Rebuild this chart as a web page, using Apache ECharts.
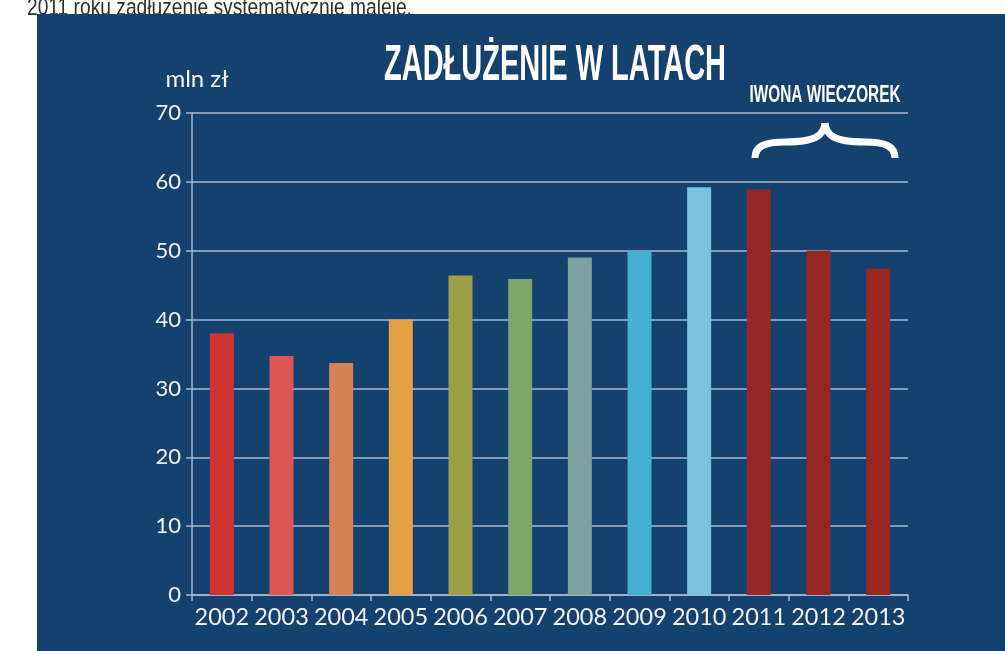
<!DOCTYPE html>
<html>
<head>
<meta charset="utf-8">
<script src="https://cdn.jsdelivr.net/npm/echarts@6/dist/echarts.min.js"></script>
<style>
  html, body { margin: 0; padding: 0; background: #fff; }
  #chart { width: 1005px; height: 651px; }
</style>
</head>
<body>
<div id="chart"></div>
<script>
// data
const years = ['2002', '2003', '2004', '2005', '2006', '2007', '2008', '2009', '2010', '2011', '2012', '2013'];
const debt = [38, 34.7, 33.7, 40, 46.4, 45.9, 49, 50, 59.2, 58.9, 50, 47.4];
const barColors = ['#cf3232', '#dc5656', '#d68055', '#e5a044', '#9ca046', '#7da66c',
                   '#7ea2a2', '#43b1d0', '#7bc3df', '#952724', '#952724', '#952724'];

const gridColor = '#a9b9cf';

// the curly brace over 2011-2013, drawn as four curves
const brace = { stroke: '#ffffff', lineWidth: 7, fill: null };
const braceParts = [
    { x1: 755, y1: 158, cpx1: 755, cpy1: 146, cpx2: 765, cpy2: 142, x2: 785, y2: 142 },
    { x1: 785, y1: 142, cpx1: 818, cpy1: 142, cpx2: 824, cpy2: 134, x2: 825, y2: 123 },
    { x1: 825, y1: 123, cpx1: 826, cpy1: 134, cpx2: 832, cpy2: 142, x2: 865, y2: 142 },
    { x1: 865, y1: 142, cpx1: 885, cpy1: 142, cpx2: 895, cpy2: 146, x2: 895, y2: 158 }
];

const chart = echarts.init(document.getElementById('chart'), null, { renderer: 'canvas' });

chart.setOption({
    backgroundColor: '#ffffff',
    animation: false,
    grid: { left: 192, right: 97, top: 113, bottom: 56 },
    graphic: [
        // text of the page above the panel, cut by it
        {
            type: 'text', x: 27, y: 20, z: -11, scaleX: 0.8,
            style: {
                text: '2011 roku zadłużenie systematycznie maleje,',
                font: '24px "Liberation Sans Narrow", sans-serif',
                fill: '#2e2e2e', verticalAlign: 'bottom'
            }
        },
        {
            type: 'rect', z: -10,
            shape: { x: 37, y: 14, width: 968, height: 637 },
            style: { fill: '#15416f' }
        },
        {
            type: 'text', x: 555, y: 66, scaleX: 0.58,
            style: {
                text: 'ZADŁUŻENIE W LATACH',
                font: 'bold 50px "Liberation Sans Narrow", sans-serif',
                fill: '#ffffff', align: 'center', verticalAlign: 'middle'
            }
        },
        {
            type: 'text', x: 825, y: 95, scaleX: 0.64,
            style: {
                text: 'IWONA WIECZOREK',
                font: 'bold 24px "Liberation Sans Narrow", sans-serif',
                fill: '#ffffff', align: 'center', verticalAlign: 'middle'
            }
        }
    ].concat(braceParts.map(p => ({ type: 'bezierCurve', shape: p, style: brace }))),
    xAxis: {
        type: 'category',
        data: years,
        axisLine: { lineStyle: { color: gridColor, width: 1.5 } },
        axisTick: { show: true, length: 6, interval: 0, lineStyle: { color: gridColor, width: 1.5 } },
        axisLabel: { color: '#f4f4f4', fontFamily: 'Lato', fontSize: 23.5, margin: 10, interval: 0 }
    },
    yAxis: {
        type: 'value',
        min: 0, max: 70, interval: 10,
        name: 'mln zł',
        nameLocation: 'end',
        nameGap: 34,
        nameTextStyle: { color: '#f4f4f4', fontFamily: 'Lato', fontSize: 24, verticalAlign: 'middle', padding: [0, 0, 0, 10] },
        axisLine: { show: true, lineStyle: { color: gridColor, width: 1.5 } },
        axisTick: { show: true, length: 6, lineStyle: { color: gridColor, width: 1.5 } },
        axisLabel: { color: '#f4f4f4', fontFamily: 'Lato', fontSize: 22, margin: 11 },
        splitLine: { lineStyle: { color: gridColor, width: 1.5 } }
    },
    series: [{
        type: 'bar',
        data: debt.map((v, i) => ({ value: v, itemStyle: { color: barColors[i] } })),
        barWidth: 24
    }]
});
</script>
</body>
</html>
